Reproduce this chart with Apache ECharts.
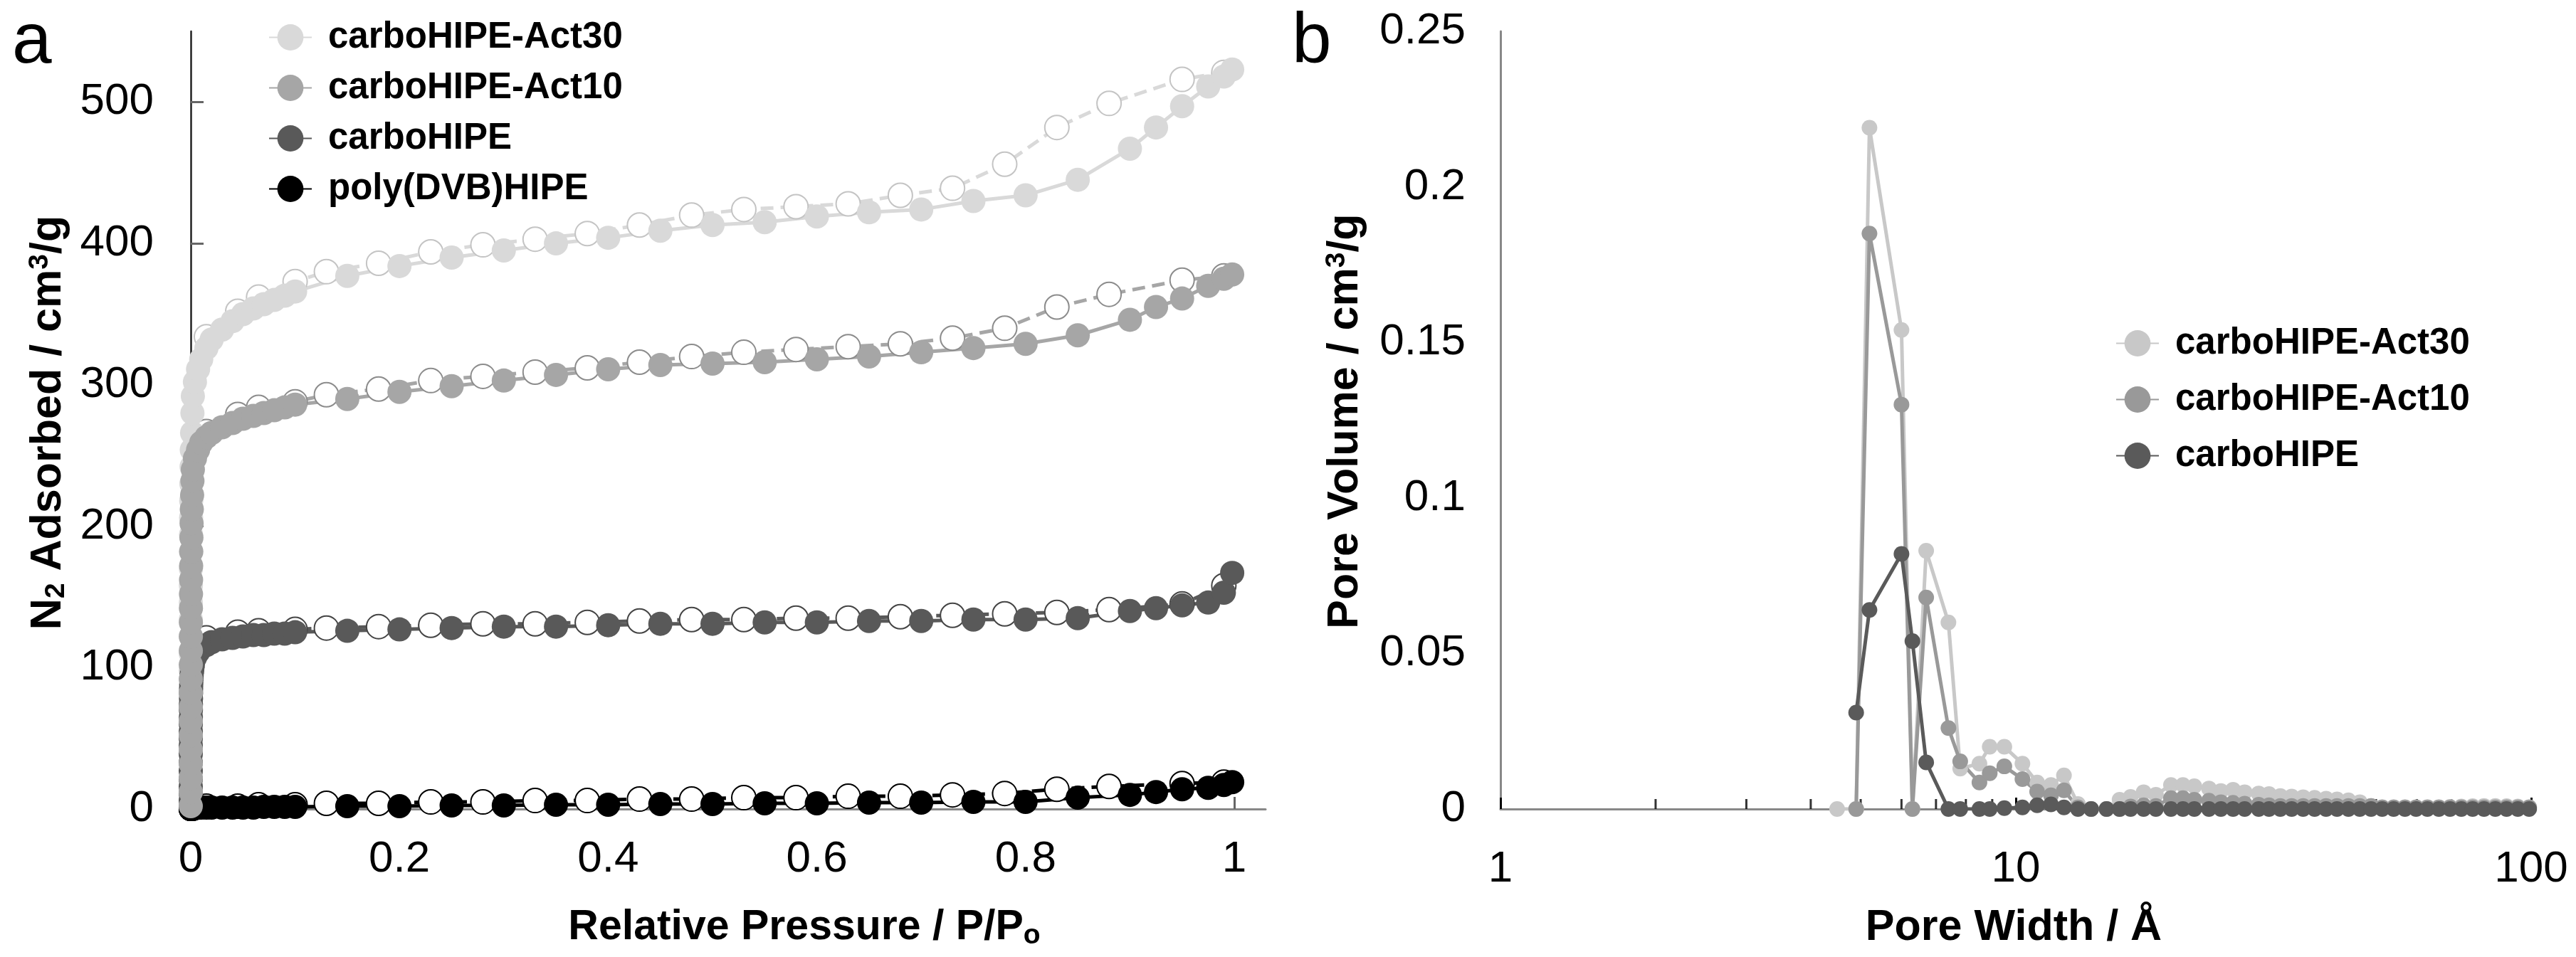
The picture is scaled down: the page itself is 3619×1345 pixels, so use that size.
<!DOCTYPE html>
<html>
<head>
<meta charset="utf-8">
<script src="https://cdn.jsdelivr.net/npm/echarts@6/dist/echarts.min.js"></script>
<style>
  html, body { margin: 0; padding: 0; background: #fff; }
  #chart { width: 3619px; height: 1345px; }
</style>
</head>
<body>
<div id="chart"></div>
<script>
// --- Panel a: N2 isotherms (adsorption = filled, desorption = open) ---
var adsP = [0.000001, 0.000002, 0.000003, 0.000005, 0.000007, 0.00001, 0.000015, 0.00002, 0.00003, 0.00004,
  0.00005, 0.00007, 0.0001, 0.00013, 0.00017, 0.00022, 0.00028, 0.00035, 0.00045, 0.0006,
  0.0008, 0.001, 0.0013, 0.0016, 0.002,
  0.004, 0.007, 0.01, 0.015, 0.02, 0.03, 0.04, 0.05, 0.06, 0.07, 0.08, 0.09, 0.1,
  0.15, 0.2, 0.25, 0.3, 0.35, 0.4, 0.45, 0.5, 0.55, 0.6, 0.65, 0.7, 0.75, 0.8, 0.85,
  0.9, 0.925, 0.95, 0.975, 0.99, 0.998];
var act30Ads = [3, 14, 26, 38, 50, 62, 74, 86, 98, 110,
  122, 134, 146, 158, 170, 182, 194, 206, 218, 230,
  242, 254, 266, 280, 292,
  302, 311, 318, 326, 332, 339, 345, 350, 354, 357, 360, 363, 366,
  377, 384, 390, 395, 400, 404, 409, 413, 415, 419, 422, 424, 430, 434, 445,
  467, 482, 497, 511, 518, 523];
var act10Ads = [2, 12, 22, 32, 42, 52, 62, 72, 82, 92,
  102, 112, 122, 132, 142, 152, 162, 172, 182, 192,
  202, 212, 222, 232, 240,
  248, 254, 259, 263, 266, 270, 273, 276, 278, 280, 282, 284, 286,
  290, 295, 299, 303, 307, 311, 314, 315, 316, 318, 320, 323, 326, 329, 335,
  346, 355, 361, 370, 375, 378];
var carboAds = [1, 6, 11, 16, 21, 27, 33, 39, 45, 50,
  55, 60, 65, 70, 74, 78, 82, 85, 88, 91,
  94, 96, 98, 100, 102,
  107, 111, 114, 116, 118, 120, 121, 122, 123, 123, 124, 124, 125,
  126, 127, 128, 129, 129, 130, 131, 131, 132, 132, 133, 133, 134, 134, 135,
  140, 142, 144, 146, 153, 167];
var polyAds = [0, 0, 0, 0, 0, 0, 0, 0, 0, 0,
  0, 0, 0, 0, 0, 0, 0, 0, 0, 0,
  0, 0, 0, 0, 0,
  0.5, 1, 1, 1, 1, 1, 1, 1, 1, 1.5, 1.5, 1.5, 1.5,
  2, 2, 2.5, 2.5, 3, 3, 3.5, 3.5, 4, 4, 4.5, 4.5, 5, 5, 8,
  10, 12, 14, 15, 17, 19];

var desP = [0.99, 0.95, 0.88, 0.83, 0.78, 0.73, 0.68, 0.63, 0.58, 0.53, 0.48, 0.43,
  0.38, 0.33, 0.28, 0.23, 0.18, 0.13, 0.1, 0.065, 0.045, 0.015];
var act30Des = [521, 516, 499, 482, 456, 439, 434, 428, 426, 424, 420, 413,
  407, 403, 399, 394, 386, 380, 373, 362, 352, 334];
var act10Des = [377, 374, 364, 355, 340, 333, 329, 327, 325, 323, 320, 316,
  312, 309, 306, 303, 297, 293, 288, 284, 279, 267];
var carboDes = [158, 145, 141, 139, 138, 137, 136, 135, 135, 134, 134, 133,
  132, 131, 131, 130, 129, 128, 127, 126, 125, 121];
var polyDes = [19, 18, 16, 14, 11, 10, 9, 9, 8, 8, 7, 7,
  6, 6, 5, 5, 4, 4, 3, 3, 2, 2];

// --- Panel b: pore size distribution ---
var poreW = [4.5, 4.9, 5.2, 6.0, 6.3, 6.7, 7.4, 7.8, 8.5, 8.9, 9.5, 10.3, 11.0, 11.7, 12.4, 13.2,
  14.0, 15.0, 15.9, 16.7, 17.7, 18.7, 20.0, 21.1, 22.2, 23.7, 25.0, 26.4, 27.8, 29.6, 31.0,
  32.6, 34.3, 36.1, 38.0, 40.0, 42.0, 44.2, 46.5, 48.9, 51.4, 54.1, 56.9, 59.8, 62.9, 66.2,
  69.6, 73.2, 77.0, 81.0, 85.2, 89.6, 94.2, 99.1];
var act30Psd = [0, 0, 0.219, 0.154, 0, 0.083, 0.060, 0.013, 0.0146, 0.020, 0.020, 0.0146, 0.0085, 0.0077, 0.0108, 0.0016,
  0, 0, 0.003, 0.0039, 0.0054, 0.0046, 0.0077, 0.0077, 0.0073, 0.0066, 0.0058, 0.0062, 0.0054, 0.005, 0.0048,
  0.0042, 0.004, 0.0038, 0.0036, 0.0033, 0.0031, 0.0028, 0.0022, 0.001, 0.0006, 0.0006, 0.0006, 0.0006, 0.0006, 0.0006,
  0.0007, 0.0008, 0.0009, 0.001, 0.001, 0.0009, 0.0008, 0.0006];
var act10Psd = [null, 0, 0.185, 0.130, 0, 0.068, 0.026, 0.0153, 0.0085, 0.0115, 0.0137, 0.0096, 0.0056, 0.0044, 0.006, 0.0005,
  0, 0, 0, 0.0008, 0.0012, 0.001, 0.0035, 0.0035, 0.003, 0.0027, 0.0022, 0.002, 0.0017, 0.0014, 0.0012,
  0.001, 0.001, 0.001, 0.001, 0.001, 0.001, 0.001, 0.001, 0.001, 0.0005, 0.0005, 0.0005, 0.0005, 0.0005, 0.0005,
  0.0005, 0.0005, 0.0005, 0.0005, 0.0005, 0.0005, 0.0005, 0.0005];
var carboPsd = [null, 0.031, 0.064, 0.082, 0.054, 0.015, 0, 0, 0, 0, 0.0003, 0.0005, 0.0012, 0.0015, 0.0005, 0,
  0, 0, 0, 0, 0, 0, 0, 0, 0, 0, 0, 0, 0, 0, 0,
  0, 0, 0, 0, 0, 0, 0, 0, 0, 0, 0, 0, 0, 0, 0,
  0, 0, 0, 0, 0, 0, 0, 0];
var minorTicks = [2, 3, 4, 5, 6, 7, 8, 9, 20, 30, 40, 50, 60, 70, 80, 90];

var pTicks = [0, 0.2, 0.4, 0.6, 0.8, 1];
var nTicks = [0, 100, 200, 300, 400, 500];

var FONT = '"Liberation Sans", Arial, sans-serif';

function pairs(xs, ys) {
  var out = [];
  for (var i = 0; i < xs.length; i++) {
    if (ys[i] !== null) out.push([xs[i], ys[i]]);
  }
  return out;
}

function adsSeries(name, ys, color) {
  return {
    name: name, type: 'line', xAxisIndex: 0, yAxisIndex: 0,
    data: pairs(adsP, ys),
    symbol: 'circle', symbolSize: 34, showAllSymbol: true,
    lineStyle: { color: color, width: 5 },
    itemStyle: { color: color }
  };
}

function desSeries(name, ys, color, edge) {
  return {
    name: name, type: 'line', xAxisIndex: 0, yAxisIndex: 0,
    data: pairs(desP, ys),
    symbol: 'circle', symbolSize: 34, showAllSymbol: true,
    lineStyle: { color: color, width: 5, type: [18, 10] },
    itemStyle: { color: '#fff', borderColor: edge, borderWidth: 2 }
  };
}

function psdSeries(name, ys, color) {
  return {
    name: name, type: 'line', xAxisIndex: 1, yAxisIndex: 1,
    data: pairs(poreW, ys),
    symbol: 'circle', symbolSize: 22, showAllSymbol: true,
    lineStyle: { color: color, width: 5 },
    itemStyle: { color: color }
  };
}

var labelStyle = { fontFamily: FONT, fontSize: 62, color: '#000' };
var legendText = { fontFamily: FONT, fontSize: 51, fontWeight: 'bold', color: '#000', padding: [0, 0, 0, 18] };

function titleText(text, x, y, size, rotate) {
  return {
    type: 'text', x: x, y: y, rotation: rotate ? Math.PI / 2 : 0,
    style: {
      text: text, fontFamily: FONT, fontSize: size, fontWeight: 'bold', fill: '#000',
      lineHeight: 62, align: 'center', verticalAlign: 'middle',
      textAlign: 'center', textVerticalAlign: 'middle',
      rich: {
        sub: { fontFamily: FONT, fontSize: 39, fontWeight: 'bold', lineHeight: 24, verticalAlign: 'bottom' },
        sup: { fontFamily: FONT, fontSize: 39, fontWeight: 'bold', lineHeight: 24, verticalAlign: 'top' }
      }
    }
  };
}

var chart = echarts.init(document.getElementById('chart'), null, { renderer: 'canvas' });
chart.setOption({
  animation: false,
  backgroundColor: '#fff',
  grid: [
    { left: 268, right: 1841, top: 44, bottom: 208 },
    { left: 2108, right: 63, top: 44, bottom: 208 }
  ],
  xAxis: [
    {
      gridIndex: 0, type: 'value', min: 0, max: 1.03, interval: 0.2,
      axisLine: { lineStyle: { color: '#888', width: 3 } },
      axisTick: { inside: true, length: 17, customValues: pTicks, lineStyle: { color: '#666', width: 3 } },
      axisLabel: Object.assign({ margin: 40, customValues: pTicks }, labelStyle),
      splitLine: { show: false }
    },
    {
      gridIndex: 1, type: 'log', logBase: 10, min: 1, max: 100,
      axisLine: { lineStyle: { color: '#888', width: 3 } },
      axisTick: { inside: true, length: 16, lineStyle: { color: '#000', width: 3 } },
      axisLabel: Object.assign({ margin: 54 }, labelStyle),
      splitLine: { show: false }
    }
  ],
  yAxis: [
    {
      gridIndex: 0, type: 'value', min: 0, max: 550, interval: 100,
      axisLine: { show: true, lineStyle: { color: '#222', width: 2.5 } },
      axisTick: { show: true, inside: true, length: 18, customValues: nTicks, lineStyle: { color: '#666', width: 3 } },
      axisLabel: Object.assign({ margin: 52, customValues: nTicks }, labelStyle),
      splitLine: { show: false }
    },
    {
      gridIndex: 1, type: 'value', min: 0, max: 0.25, interval: 0.05,
      axisLine: { show: true, lineStyle: { color: '#888', width: 3 } },
      axisTick: { show: false },
      axisLabel: Object.assign({ margin: 49 }, labelStyle),
      splitLine: { show: false }
    }
  ],
  legend: [
    {
      data: ['carboHIPE-Act30', 'carboHIPE-Act10', 'carboHIPE', 'poly(DVB)HIPE'],
      orient: 'vertical', left: 372, top: 22,
      itemWidth: 60, itemHeight: 46, itemGap: 20, selectedMode: false,
      textStyle: legendText
    },
    {
      data: ['b carboHIPE-Act30', 'b carboHIPE-Act10', 'b carboHIPE'],
      formatter: function(n) { return n.slice(2); },
      orient: 'vertical', left: 2967, top: 452,
      itemWidth: 60, itemHeight: 46, itemGap: 28, selectedMode: false,
      textStyle: legendText
    }
  ],
  graphic: [
    { type: 'text', x: 17, y: 60, style: { text: 'a', fontFamily: FONT, fontSize: 100, fill: '#000', verticalAlign: 'middle', textVerticalAlign: 'middle' } },
    { type: 'text', x: 1815, y: 60, style: { text: 'b', fontFamily: FONT, fontSize: 100, fill: '#000', verticalAlign: 'middle', textVerticalAlign: 'middle' } },
    titleText('Relative Pressure / P/P{sub|o}', 1130, 1304, 59, false),
    titleText('N{sub|2} Adsorbed / cm{sup|3}/g', 68, 594, 61, true),
    titleText('Pore Width / Å', 2829, 1304, 61, false),
    titleText('Pore Volume / cm{sup|3}/g', 1890, 592, 61, true)
  ],
  series: [
    desSeries('des Act30', act30Des, '#d9d9d9', '#c4c4c4'),
    desSeries('des Act10', act10Des, '#a6a6a6', '#8c8c8c'),
    desSeries('des carbo', carboDes, '#595959', '#444'),
    desSeries('des poly', polyDes, '#000', '#000'),
    adsSeries('carboHIPE-Act30', act30Ads, '#d9d9d9'),
    adsSeries('carboHIPE', carboAds, '#595959'),
    adsSeries('poly(DVB)HIPE', polyAds, '#000'),
    adsSeries('carboHIPE-Act10', act10Ads, '#a6a6a6'),
    {
      name: 'ticks', type: 'scatter', xAxisIndex: 1, yAxisIndex: 1, silent: true,
      data: minorTicks.map(function(v) { return [v, 0]; }),
      symbol: 'rect', symbolSize: [3, 14], symbolOffset: [0, -7],
      itemStyle: { color: '#000' }, z: 1
    },
    psdSeries('b carboHIPE-Act30', act30Psd, '#c8c8c8'),
    psdSeries('b carboHIPE-Act10', act10Psd, '#999999'),
    psdSeries('b carboHIPE', carboPsd, '#5a5a5a')
  ]
});
</script>
</body>
</html>
